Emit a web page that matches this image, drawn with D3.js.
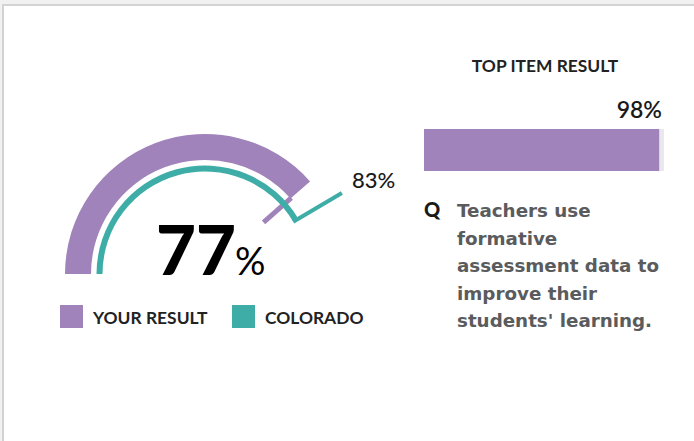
<!DOCTYPE html>
<html>
<head>
<meta charset="utf-8">
<script src="https://cdn.jsdelivr.net/npm/d3@7/dist/d3.min.js"></script>
<style>
  html, body { margin: 0; padding: 0; background: #f1f1f1; }
  svg { display: block; }
</style>
</head>
<body>
<svg id="chart" width="694" height="441"></svg>
<script>
// ---- data ----
const seriesNames = ["YOUR RESULT", "COLORADO"];
const seriesValues = [77, 83];
const seriesColors = ["#a183bb", "#3fada7"];
const topItemTitle = "TOP ITEM RESULT";
const topItemValues = [98];
const questionMark = "Q";
const questionLines = ["Teachers use", "formative", "assessment data to", "improve their", "students' learning."];

const FONT = "Lato, 'Open Sans', sans-serif";
const QFONT = "'DejaVu Sans', sans-serif";
const svg = d3.select("#chart");

// panel
svg.append("rect").attr("x", 2).attr("y", 4).attr("width", 700).attr("height", 450).attr("fill", "#d3d3d3");
svg.append("rect").attr("x", 4).attr("y", 6).attr("width", 700).attr("height", 450).attr("fill", "#ffffff");

// ---- gauge ----
const cx = 205, cy = 274;
const angle = d3.scaleLinear().domain([0, 100]).range([-Math.PI / 2, Math.PI / 2]);
const g = svg.append("g").attr("transform", `translate(${cx},${cy})`);

const pt = (v, r) => [r * Math.sin(angle(v)), -r * Math.cos(angle(v))];

// purple result arc
g.append("path")
  .attr("d", d3.arc().innerRadius(114).outerRadius(140).startAngle(angle(0)).endAngle(angle(seriesValues[0]))())
  .attr("fill", seriesColors[0]);
// purple inward tick
g.append("line")
  .attr("x1", pt(seriesValues[0], 78)[0]).attr("y1", pt(seriesValues[0], 78)[1])
  .attr("x2", pt(seriesValues[0], 115)[0]).attr("y2", pt(seriesValues[0], 115)[1])
  .attr("stroke", seriesColors[0]).attr("stroke-width", 5);

// teal state arc
g.append("path")
  .attr("d", d3.arc().innerRadius(102.5).outerRadius(108.5).startAngle(angle(0)).endAngle(angle(seriesValues[1]))())
  .attr("fill", seriesColors[1]);
// teal leader
g.append("path")
  .attr("d", d3.line()([pt(seriesValues[1], 102.5), pt(seriesValues[1], 159)]))
  .attr("stroke", seriesColors[1]).attr("stroke-width", 4).attr("fill", "none");
g.append("text")
  .attr("x", 352 - cx).attr("y", 188 - cy)
  .attr("font-family", FONT).attr("font-size", 22).attr("font-weight", 500)
  .attr("fill", "#1a1a1a")
  .text(seriesValues[1] + "%");

// big value
const big = svg.append("text").attr("x", 156).attr("y", 275)
  .attr("font-family", FONT).attr("fill", "#000");
big.append("tspan").attr("font-size", 69).attr("font-weight", 900).text(seriesValues[0]);
big.append("tspan").attr("font-size", 38).attr("font-weight", 400).attr("dx", -1).text("%");

// legend
const legend = svg.append("g");
const legX = [60, 232];
seriesNames.forEach((n, i) => {
  legend.append("rect").attr("x", legX[i]).attr("y", 305).attr("width", 23).attr("height", 23).attr("fill", seriesColors[i]);
  legend.append("text").attr("x", legX[i] + 33).attr("y", 324)
    .attr("font-family", FONT).attr("font-size", 17.4).attr("font-weight", 700)
    .attr("fill", "#222").text(n);
});

// ---- top item ----
svg.append("text").attr("x", 545).attr("y", 72).attr("text-anchor", "middle")
  .attr("font-family", FONT).attr("font-size", 17.4).attr("font-weight", 700)
  .attr("fill", "#222").text(topItemTitle);

const xBar = d3.scaleLinear().domain([0, 100]).range([424, 664]);
svg.append("rect").attr("x", xBar(0)).attr("y", 129).attr("width", xBar(100) - xBar(0)).attr("height", 42).attr("fill", "#e8e8ee");
svg.append("rect").attr("x", xBar(0)).attr("y", 129).attr("width", xBar(topItemValues[0]) - xBar(0)).attr("height", 42).attr("fill", seriesColors[0]);
svg.append("text").attr("x", 662).attr("y", 118).attr("text-anchor", "end")
  .attr("font-family", FONT).attr("font-size", 23).attr("font-weight", 600)
  .attr("fill", "#1a1a1a").text(topItemValues[0] + "%");

svg.append("text").attr("x", 424).attr("y", 217)
  .attr("font-family", FONT).attr("font-size", 20).attr("font-weight", 900)
  .attr("fill", "#1a1a1a").text(questionMark);
const q = svg.append("text").attr("font-family", QFONT).attr("font-size", 18.3).attr("font-weight", 700).attr("fill", "#5a5b5d");
questionLines.forEach((l, i) => {
  q.append("tspan").attr("x", 457).attr("y", 217 + i * 27.5).text(l);
});
</script>
</body>
</html>
